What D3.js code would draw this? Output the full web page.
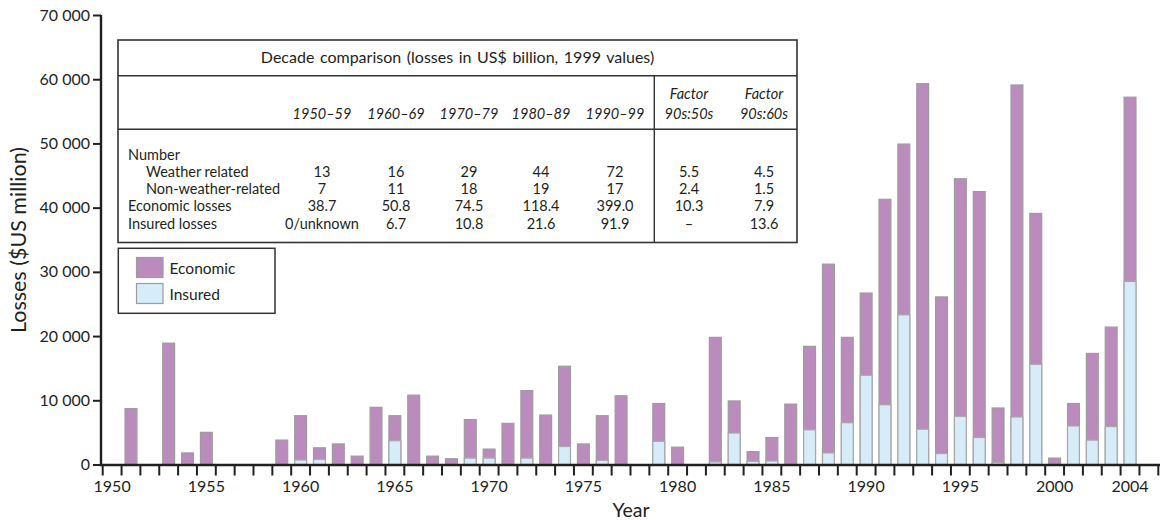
<!DOCTYPE html>
<html>
<head>
<meta charset="utf-8">
<script src="https://cdn.jsdelivr.net/npm/d3@7"></script>
<style>
  html, body { margin: 0; padding: 0; background: #fff; }
  svg { display: block; font-family: Lato, "Open Sans", sans-serif; }
</style>
</head>
<body>
<svg id="chart" width="1166" height="520"></svg>
<script>
// ---- data ----
const years = d3.range(1950, 2006);
const economic = [
  0, 8700, 0, 18900, 1800, 5000, 0, 0, 0, 3800,
  7600, 2600, 3200, 1300, 8900, 7600, 10800, 1300, 900, 7000,
  2400, 6400, 11500, 7700, 15300, 3200, 7600, 10700, 0, 9500,
  2700, 0, 19800, 9900, 2000, 4200, 9400, 18400, 31200, 19800,
  26700, 41300, 49900, 59300, 26100, 44500, 42500, 8800, 59100, 39100,
  1000, 9500, 17300, 21400, 57200, 0
];
const insured = [
  0, 0, 0, 0, 0, 0, 0, 0, 0, 0,
  700, 800, 0, 0, 0, 3700, 0, 0, 0, 1000,
  1000, 0, 1000, 0, 2800, 0, 650, 0, 0, 3600,
  0, 0, 400, 4900, 500, 550, 0, 5400, 1800, 6500,
  13900, 9300, 23300, 5500, 1700, 7500, 4200, 300, 7400, 15600,
  0, 6000, 3800, 5900, 28500, 0
];
const yTicks = [0, 10000, 20000, 30000, 40000, 50000, 60000, 70000];
const xTickLabels = [1950, 1955, 1960, 1965, 1970, 1975, 1980, 1985, 1990, 1995, 2000, 2004];

const tableTitle = "Decade comparison (losses in US$ billion, 1999 values)";
const decadeCols = ["1950–59", "1960–69", "1970–79", "1980–89", "1990–99"];
const factorCols = [["Factor", "90s:50s"], ["Factor", "90s:60s"]];
const rowLabels = ["Number", "Weather related", "Non-weather-related", "Economic losses", "Insured losses"];
const rowIndent = [false, true, true, false, false];
const rowValues = [
  ["", "", "", "", "", "", ""],
  ["13", "16", "29", "44", "72", "5.5", "4.5"],
  ["7", "11", "18", "19", "17", "2.4", "1.5"],
  ["38.7", "50.8", "74.5", "118.4", "399.0", "10.3", "7.9"],
  ["0/unknown", "6.7", "10.8", "21.6", "91.9", "–", "13.6"]
];
const legendItems = ["Economic", "Insured"];
const colors = { Economic: "#bc8bbe", Insured: "#d6edf9" };

// ---- layout ----
const svg = d3.select("#chart");
const x = d3.scaleBand().domain(years).range([102.7, 1158.3]).paddingInner(0.37).paddingOuter(0.185);
const step = x.step();
const y = d3.scaleLinear().domain([0, 70000]).range([464.5, 15]);
const axisColor = "#231f20";

const data = years.map((yr, i) => ({ year: yr, eco: economic[i], ins: insured[i] }));

// bars
const g = svg.append("g");
g.selectAll("rect.eco").data(data.filter(d => d.eco > 0)).join("rect")
  .attr("class", "eco")
  .attr("x", d => x(d.year))
  .attr("width", x.bandwidth())
  .attr("y", d => y(d.eco))
  .attr("height", d => y(0) - y(d.eco))
  .attr("fill", colors.Economic)
  .attr("stroke", "#9c9c9c").attr("stroke-width", 1.2);
g.selectAll("rect.ins").data(data.filter(d => d.ins > 0)).join("rect")
  .attr("class", "ins")
  .attr("x", d => x(d.year))
  .attr("width", x.bandwidth())
  .attr("y", d => y(d.ins))
  .attr("height", d => y(0) - y(d.ins))
  .attr("fill", colors.Insured)
  .attr("stroke", "#a8a8a8").attr("stroke-width", 1.2);

// y axis
const yAxis = d3.axisLeft(y).tickValues(yTicks).tickSize(8).tickPadding(3)
  .tickFormat(d => d3.format(",")(d).replace(/,/g, " "));
const ya = svg.append("g").attr("transform", "translate(101,0)").call(yAxis);
ya.select(".domain").attr("stroke", axisColor).attr("stroke-width", 2.4).attr("d", "M0,15V465.5");
ya.selectAll(".tick line").attr("stroke", axisColor).attr("stroke-width", 2);
ya.selectAll(".tick text").attr("font-size", 16).attr("fill", "#231f20").attr("font-family", "Lato, sans-serif");

// x axis: ticks at band boundaries
const xb = svg.append("g");
xb.append("line").attr("x1", 100).attr("x2", 1160).attr("y1", 465).attr("y2", 465)
  .attr("stroke", axisColor).attr("stroke-width", 2.6);
const half = (step - x.bandwidth()) / 2;
const boundaries = years.map(yr => x(yr) - half).concat([x(2005) + x.bandwidth() + half]);
xb.selectAll("line.tk").data(boundaries).join("line").attr("class", "tk")
  .attr("x1", d => d).attr("x2", d => d).attr("y1", 465).attr("y2", 475.5)
  .attr("stroke", axisColor).attr("stroke-width", 2);
xb.selectAll("text").data(xTickLabels).join("text")
  .attr("x", d => x(d) + x.bandwidth() / 2).attr("y", 492)
  .attr("text-anchor", "middle").attr("font-size", 16).attr("fill", "#231f20")
  .text(d => d);

// axis titles
svg.append("text").attr("x", 631).attr("y", 517).attr("text-anchor", "middle")
  .attr("font-size", 19.5).attr("fill", "#231f20").text("Year");
svg.append("text").attr("transform", "translate(26,240) rotate(-90)").attr("text-anchor", "middle")
  .attr("font-size", 21.5).attr("fill", "#231f20").text("Losses ($US million)");

// ---- table ----
const t = svg.append("g");
const tL = 118, tR = 797, tT = 40, tB = 242.5, divX = 654.3;
t.append("rect").attr("x", tL).attr("y", tT).attr("width", tR - tL).attr("height", tB - tT)
  .attr("fill", "#fff").attr("stroke", "#333").attr("stroke-width", 1.6);
t.append("line").attr("x1", tL).attr("x2", tR).attr("y1", 75.7).attr("y2", 75.7).attr("stroke", "#333").attr("stroke-width", 1.4);
t.append("line").attr("x1", tL).attr("x2", tR).attr("y1", 129.3).attr("y2", 129.3).attr("stroke", "#333").attr("stroke-width", 1.4);
t.append("line").attr("x1", divX).attr("x2", divX).attr("y1", 75.7).attr("y2", tB).attr("stroke", "#333").attr("stroke-width", 1.4);
t.append("text").attr("x", (tL + tR) / 2).attr("y", 63).attr("text-anchor", "middle")
  .attr("font-size", 16).attr("word-spacing", 1.5).attr("fill", "#231f20").text(tableTitle);

const colX = [322, 396, 469, 541, 615, 689, 764];
t.selectAll("text.dec").data(decadeCols).join("text").attr("class", "dec")
  .attr("x", (d, i) => colX[i]).attr("y", 118.5).attr("text-anchor", "middle")
  .attr("font-size", 14.5).attr("font-style", "italic").attr("fill", "#231f20").text(d => d);
factorCols.forEach((fc, i) => {
  fc.forEach((s, j) => {
    t.append("text").attr("x", colX[5 + i]).attr("y", 98.5 + j * 20).attr("text-anchor", "middle")
      .attr("font-size", 14.5).attr("font-style", "italic").attr("fill", "#231f20").text(s);
  });
});
const rowY = [159.5, 176.5, 193.5, 211, 229];
rowLabels.forEach((lab, r) => {
  t.append("text").attr("x", rowIndent[r] ? 146 : 128).attr("y", rowY[r])
    .attr("font-size", 14.5).attr("fill", "#231f20").text(lab);
  rowValues[r].forEach((v, c) => {
    if (!v) return;
    t.append("text").attr("x", colX[c]).attr("y", rowY[r]).attr("text-anchor", "middle")
      .attr("font-size", 14.5).attr("fill", "#231f20").text(v);
  });
});

// ---- legend ----
const lg = svg.append("g");
lg.append("rect").attr("x", 118.3).attr("y", 248.3).attr("width", 156.7).attr("height", 65)
  .attr("fill", "#fff").attr("stroke", "#333").attr("stroke-width", 1.5);
legendItems.forEach((name, i) => {
  lg.append("rect").attr("x", 136.5).attr("y", 257.5 + i * 26).attr("width", 26.5).attr("height", 20)
    .attr("fill", colors[name]).attr("stroke", "#9c9c9c").attr("stroke-width", 1.2);
  lg.append("text").attr("x", 169.5).attr("y", 273.5 + i * 26).attr("font-size", 15.5)
    .attr("fill", "#231f20").text(name);
});
</script>
</body>
</html>
